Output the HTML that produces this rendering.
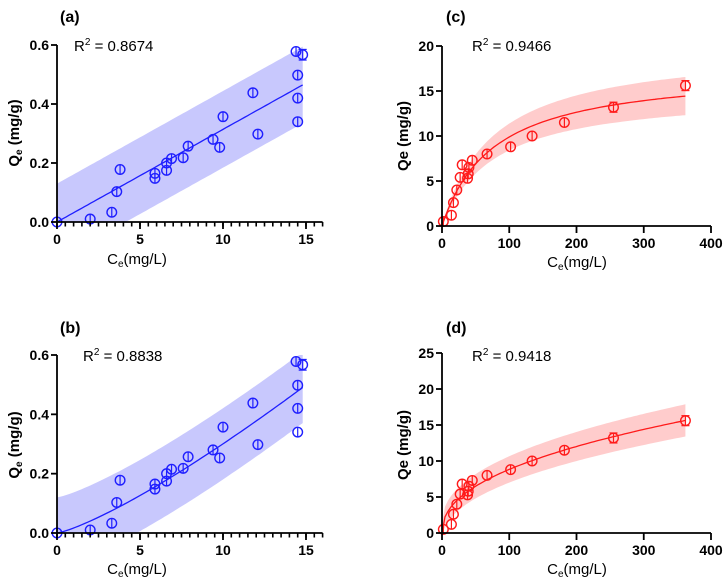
<!DOCTYPE html>
<html><head><meta charset="utf-8"><style>
html,body{margin:0;padding:0;background:#fff;}
svg{display:block;font-family:"Liberation Sans",Arial,sans-serif;}
</style></head><body>
<svg id="chart" width="728" height="587" viewBox="0 0 728 587" xmlns="http://www.w3.org/2000/svg"></svg>
<script>
const ceLow = [0,2,3.3,3.6,3.8,5.9,5.9,6.6,6.6,6.9,7.6,7.9,9.4,9.8,10,11.8,12.1,14.4,14.5,14.5,14.5,14.8];
const qeLow = [0,0.01,0.033,0.103,0.178,0.165,0.148,0.2,0.175,0.215,0.218,0.257,0.28,0.253,0.357,0.438,0.298,0.578,0.498,0.42,0.34,0.567];
const errLow = [0,0,0,0,0,0,0,0,0,0,0,0,0,0,0,0,0,0,0,0,0,0.018];
const ceHigh = [2,14,17,22,27,30,38,39,40,45,67,102,134,182,255,362];
const qeHigh = [0.5,1.2,2.6,4,5.4,6.8,5.3,5.8,6.5,7.3,8,8.8,10,11.5,13.2,15.6];
const errHigh = [0,0,0,0,0,0,0,0,0,0,0,0,0,0,0.2,0.45];
const xTicksLow = [0,5,10,15];
const yTicksLow = [0.0,0.2,0.4,0.6];
const xTicksHigh = [0,100,200,300,400];
const yTicksC = [0,5,10,15,20];
const yTicksD = [0,5,10,15,20,25];
const r2Values = ["0.8674","0.8838","0.9466","0.9418"];

const NS="http://www.w3.org/2000/svg";
const svg=document.getElementById('chart');
function mk(tag,attrs,parent,text){const e=document.createElementNS(NS,tag);for(const k in attrs)e.setAttribute(k,attrs[k]);if(text!==undefined)e.textContent=text;(parent||svg).appendChild(e);return e;}

function panel(cfg){
  const g=mk('g',{});
  
  
  const sx=v=>cfg.x0+(v-0)*(cfg.x1px-cfg.x0)/(cfg.xTickMaxVal);
  const sy=v=>cfg.y0-(v)*(cfg.y0-cfg.y1px)/(cfg.yTickMaxVal);
  let up=[],lo=[];
  const N=80;
  for(let i=0;i<=N;i++){const x=cfg.bandX0+(cfg.bandX1-cfg.bandX0)*i/N;const y=cfg.fit(x);const w=cfg.band(x,y);
    up.push([sx(x),sy(Math.min(y+w,cfg.yMax))]);lo.push([sx(x),sy(Math.max(y-w,0))]);}
  const pts=up.concat(lo.reverse()).map(p=>p[0].toFixed(1)+','+p[1].toFixed(1)).join(' ');
  const band=mk('polygon',{points:pts,fill:cfg.bandColor,stroke:'none'},g);
  
  
  let d='';
  for(let i=0;i<=N;i++){const x=cfg.bandX0+(cfg.bandX1-cfg.bandX0)*i/N;const y=cfg.fit(x);d+=(i?'L':'M')+sx(x).toFixed(1)+','+sy(Math.max(y,0)).toFixed(1);}
  const fl=mk('path',{d:d,fill:'none',stroke:cfg.color,'stroke-width':1.3},g);
  
  
  for(let i=0;i<cfg.xs.length;i++){
    const cx=sx(cfg.xs[i]),cy=sy(cfg.ys[i]);
    const pg=mk('g',{},g);
    
    
    const e=cfg.errs[i];
    const ey=Math.max(5,(sy(cfg.ys[i]-e)-sy(cfg.ys[i]+e))/2);
    mk('line',{x1:cx,x2:cx,y1:cy-ey,y2:cy+ey,stroke:cfg.color,'stroke-width':1.2},pg);
    if(e>0){mk('line',{x1:cx-4,x2:cx+4,y1:cy-ey,y2:cy-ey,stroke:cfg.color,'stroke-width':1.2},pg);mk('line',{x1:cx-4,x2:cx+4,y1:cy+ey,y2:cy+ey,stroke:cfg.color,'stroke-width':1.2},pg);}
    mk('circle',{cx:cx,cy:cy,r:4.8,fill:'none',stroke:cfg.color,'stroke-width':1.4},pg);
  }
  const ax=mk('g',{stroke:'#000','stroke-width':1.8},g);
  
  
  const xEnd=sx(cfg.xAxisMax);
  mk('line',{x1:cfg.x0,x2:xEnd,y1:cfg.y0,y2:cfg.y0},ax);
  mk('line',{x1:cfg.x0,x2:cfg.x0,y1:cfg.y0,y2:sy(cfg.yMax)},ax);
  if(cfg.xMinor){for(let k=0;k*cfg.xMinor<=cfg.xAxisMax+1e-9;k++){const v=k*cfg.xMinor;mk('line',{x1:sx(v),x2:sx(v),y1:cfg.y0,y2:cfg.y0+4.5,'stroke-width':1.6},ax);}}
  cfg.xTicks.forEach(v=>{mk('line',{x1:sx(v),x2:sx(v),y1:cfg.y0,y2:cfg.y0+7},ax);
    const t=mk('text',{x:sx(v),y:cfg.y0+22,'text-anchor':'middle','font-size':14,'font-weight':'bold',fill:'#000',stroke:'none'},g,String(v));
    });
  cfg.yTicks.forEach(v=>{mk('line',{x1:cfg.x0-6,x2:cfg.x0,y1:sy(v),y2:sy(v)},ax);
    const t=mk('text',{x:cfg.x0-8,y:sy(v)+5,'text-anchor':'end','font-size':14,'font-weight':'bold',fill:'#000'},g,cfg.yFmt(v));
    });
  const pl=mk('text',{x:cfg.labelX,y:cfg.labelY,'font-size':16,'font-weight':'bold'},g,'('+cfg.id+')');
  
  const r2=mk('text',{x:cfg.r2X,y:cfg.r2Y,'font-size':15},g);
  
  r2.innerHTML='R<tspan font-size="10" dy="-6">2</tspan><tspan dy="6"> = '+cfg.r2+'</tspan>';
  const xt=mk('text',{x:cfg.xTitleX,y:cfg.xTitleY,'text-anchor':'middle','font-size':15},g);
  
  xt.innerHTML='C<tspan font-size="10" dy="3">e</tspan><tspan dy="-3">(mg/L)</tspan>';
  const yt=mk('text',{x:0,y:0,'text-anchor':'middle','font-size':15,'font-weight':'bold',transform:'translate('+cfg.yTitleX+','+cfg.yTitleY+') rotate(-90)'},g);
  
  yt.innerHTML=cfg.yTitle;
}
const blue='#1f1fff',red='#ff1a1a';
const blueBand='rgba(110,110,250,0.38)',redBand='rgba(255,120,120,0.38)';
const qeTitle='Q<tspan font-size="10" dy="3">e</tspan><tspan dy="-3"> (mg/g)</tspan>';
panel({id:'a',x0:57,x1px:306,xTickMaxVal:15,y0:222,y1px:45,yTickMaxVal:0.6,yMax:0.6,xAxisMax:16,xMinor:0.5,
  xs:ceLow,ys:qeLow,errs:errLow,xTicks:xTicksLow,yTicks:yTicksLow,yFmt:v=>v.toFixed(1),
  fit:x=>0.0314*x,band:()=>0.13,bandX0:0,bandX1:14.8,color:blue,bandColor:blueBand,r2:r2Values[0],
  labelX:60,labelY:22,r2X:74,r2Y:51,xTitleX:137,xTitleY:264,yTitleX:19,yTitleY:133,yTitle:qeTitle});
panel({id:'b',x0:57,x1px:306,xTickMaxVal:15,y0:533,y1px:355,yTickMaxVal:0.6,yMax:0.6,xAxisMax:16,xMinor:0.5,
  xs:ceLow,ys:qeLow,errs:errLow,xTicks:xTicksLow,yTicks:yTicksLow,yFmt:v=>v.toFixed(1),
  fit:x=>0.0169*Math.pow(x,1.25),band:()=>0.12,bandX0:0,bandX1:14.8,color:blue,bandColor:blueBand,r2:r2Values[1],
  labelX:60,labelY:333,r2X:83,r2Y:361,xTitleX:137,xTitleY:574,yTitleX:19,yTitleY:445,yTitle:qeTitle});
panel({id:'c',x0:442,x1px:711,xTickMaxVal:400,y0:226,y1px:46,yTickMaxVal:20,yMax:20,xAxisMax:400,xMinor:0,
  xs:ceHigh,ys:qeHigh,errs:errHigh,xTicks:xTicksHigh,yTicks:yTicksC,yFmt:v=>String(v),
  fit:x=>17.5*0.013*x/(1+0.013*x),band:(x,y)=>0.14*y+0.1,bandX0:0,bandX1:362,color:red,bandColor:redBand,r2:r2Values[2],
  labelX:446,labelY:22,r2X:472,r2Y:51,xTitleX:577,xTitleY:267,yTitleX:408,yTitleY:136,yTitle:'Qe (mg/g)'});
panel({id:'d',x0:442,x1px:711,xTickMaxVal:400,y0:533,y1px:353,yTickMaxVal:25,yMax:25,xAxisMax:400,xMinor:0,
  xs:ceHigh,ys:qeHigh,errs:errHigh,xTicks:xTicksHigh,yTicks:yTicksD,yFmt:v=>String(v),
  fit:x=>1.143*Math.pow(x,0.444),band:(x,y)=>1.3+0.06*y,bandX0:0,bandX1:362,color:red,bandColor:redBand,r2:r2Values[3],
  labelX:446,labelY:333,r2X:472,r2Y:361,xTitleX:577,xTitleY:574,yTitleX:408,yTitleY:445,yTitle:'Qe (mg/g)'});
</script>
</body></html>
